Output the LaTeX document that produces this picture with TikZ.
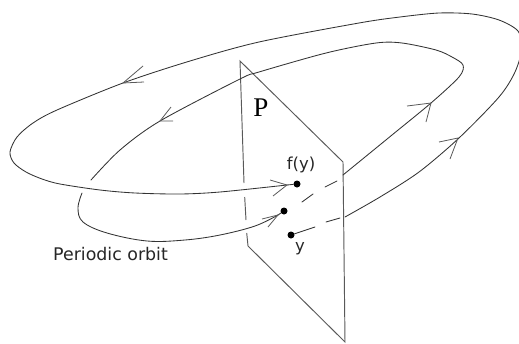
\documentclass[tikz,border=0pt]{standalone}
\usepackage{fontspec}
\setsansfont{DejaVu Sans}
\setmainfont{Liberation Serif}
\begin{document}
\begin{tikzpicture}[x=1pt,y=-1pt,
  orbit/.style={draw=black!80,line width=0.85pt,line cap=round},
  plane/.style={draw=black!65,line width=0.95pt},
  barb/.style={draw=black!65,line width=0.8pt},
  dotnode/.style={circle,fill=black,inner sep=0pt,minimum size=7pt},
  lab/.style={font=\sffamily\fontsize{16.5}{18}\selectfont,text=black!85,inner sep=0pt}]
\useasboundingbox (0,0) rectangle (519,343);
% plane
\coordinate (pa) at (240,61);
\coordinate (pb) at (343,162);
\coordinate (pc) at (345,342);
\coordinate (pd) at (248,246);
\draw[plane] (pd) -- (pc) -- (pb) -- (pa) -- (244,183);
\draw[plane] (244.7,197) -- (246,220);
\draw[plane] (246.7,233) -- (pd);
% points
\node[dotnode] (fy) at (297,184) {};
\node[dotnode] (mid) at (284,211) {};
\node[dotnode] (yy) at (291,235) {};
% outer orbit
\coordinate (o1) at (315,227);
\coordinate (o2) at (326,222);
\coordinate (o3) at (340,218);
\coordinate (o4) at (345,217);
\draw[orbit] (yy) -- (o1);
\draw[orbit] (o2) -- (o3);
\draw[orbit] plot[smooth,tension=0.5] coordinates {(o4) (380,197) (419,172) (459,138) (499,97) (515,72) (522,48) (518,31) (499,20) (472,14) (439,13) (400,17) (359,23) (259,42) (190,61) (123,83) (57,110) (33,123) (17,137) (10,152) (14,163) (26,172) (42,179) (60,184) (100,190) (135,193) (180,194) (220,192) (287,185)};
\draw[orbit] (287,185) -- (fy);
% inner orbit
\coordinate (i1) at (343,175);
\coordinate (i2) at (337,181);
\coordinate (i3) at (325,187);
\coordinate (i4) at (313,194);
\coordinate (i5) at (302,202);
\draw[orbit] (i2) -- (i3);
\draw[orbit] (i4) -- (i5);
\draw[orbit] plot[smooth,tension=0.5] coordinates {(i1) (392,135) (431,103) (459,77) (463,65) (452,57) (436,50) (402,43) (376,43) (326,53) (259,72) (240,79) (160,121) (120,150) (91,180)};
\draw[orbit] plot[smooth,tension=0.6] coordinates {(82,193) (78,208) (83,222) (107,233) (147,241) (185,240) (220,235) (255,226) (278,215)};
\draw[orbit] (278,215) -- (mid);
% arrowheads
\draw[barb] (143,66) -- (123,83) -- (144,82);
\draw[barb] (171,107) -- (160,121) -- (173,121);
\draw[barb] (407,106) -- (431,103) -- (426,122);
\draw[barb] (439,142) -- (458,138) -- (450,159);
\draw[barb] (270,180) -- (287,185) -- (273,196);
\draw[barb] (262,219) -- (278,215) -- (268,227);
% labels
\node[font=\rmfamily\fontsize{27}{30}\selectfont,inner sep=0pt] (lp) at (261,108) {P};
\node[lab] (lf) at (301,165) {f(y)};
\node[lab] (ly) at (300,249) {y};
\node[lab,anchor=west,font=\sffamily\fontsize{17.4}{19}\selectfont] (lo) at (53,254) {Periodic orbit};
\end{tikzpicture}
\end{document}
